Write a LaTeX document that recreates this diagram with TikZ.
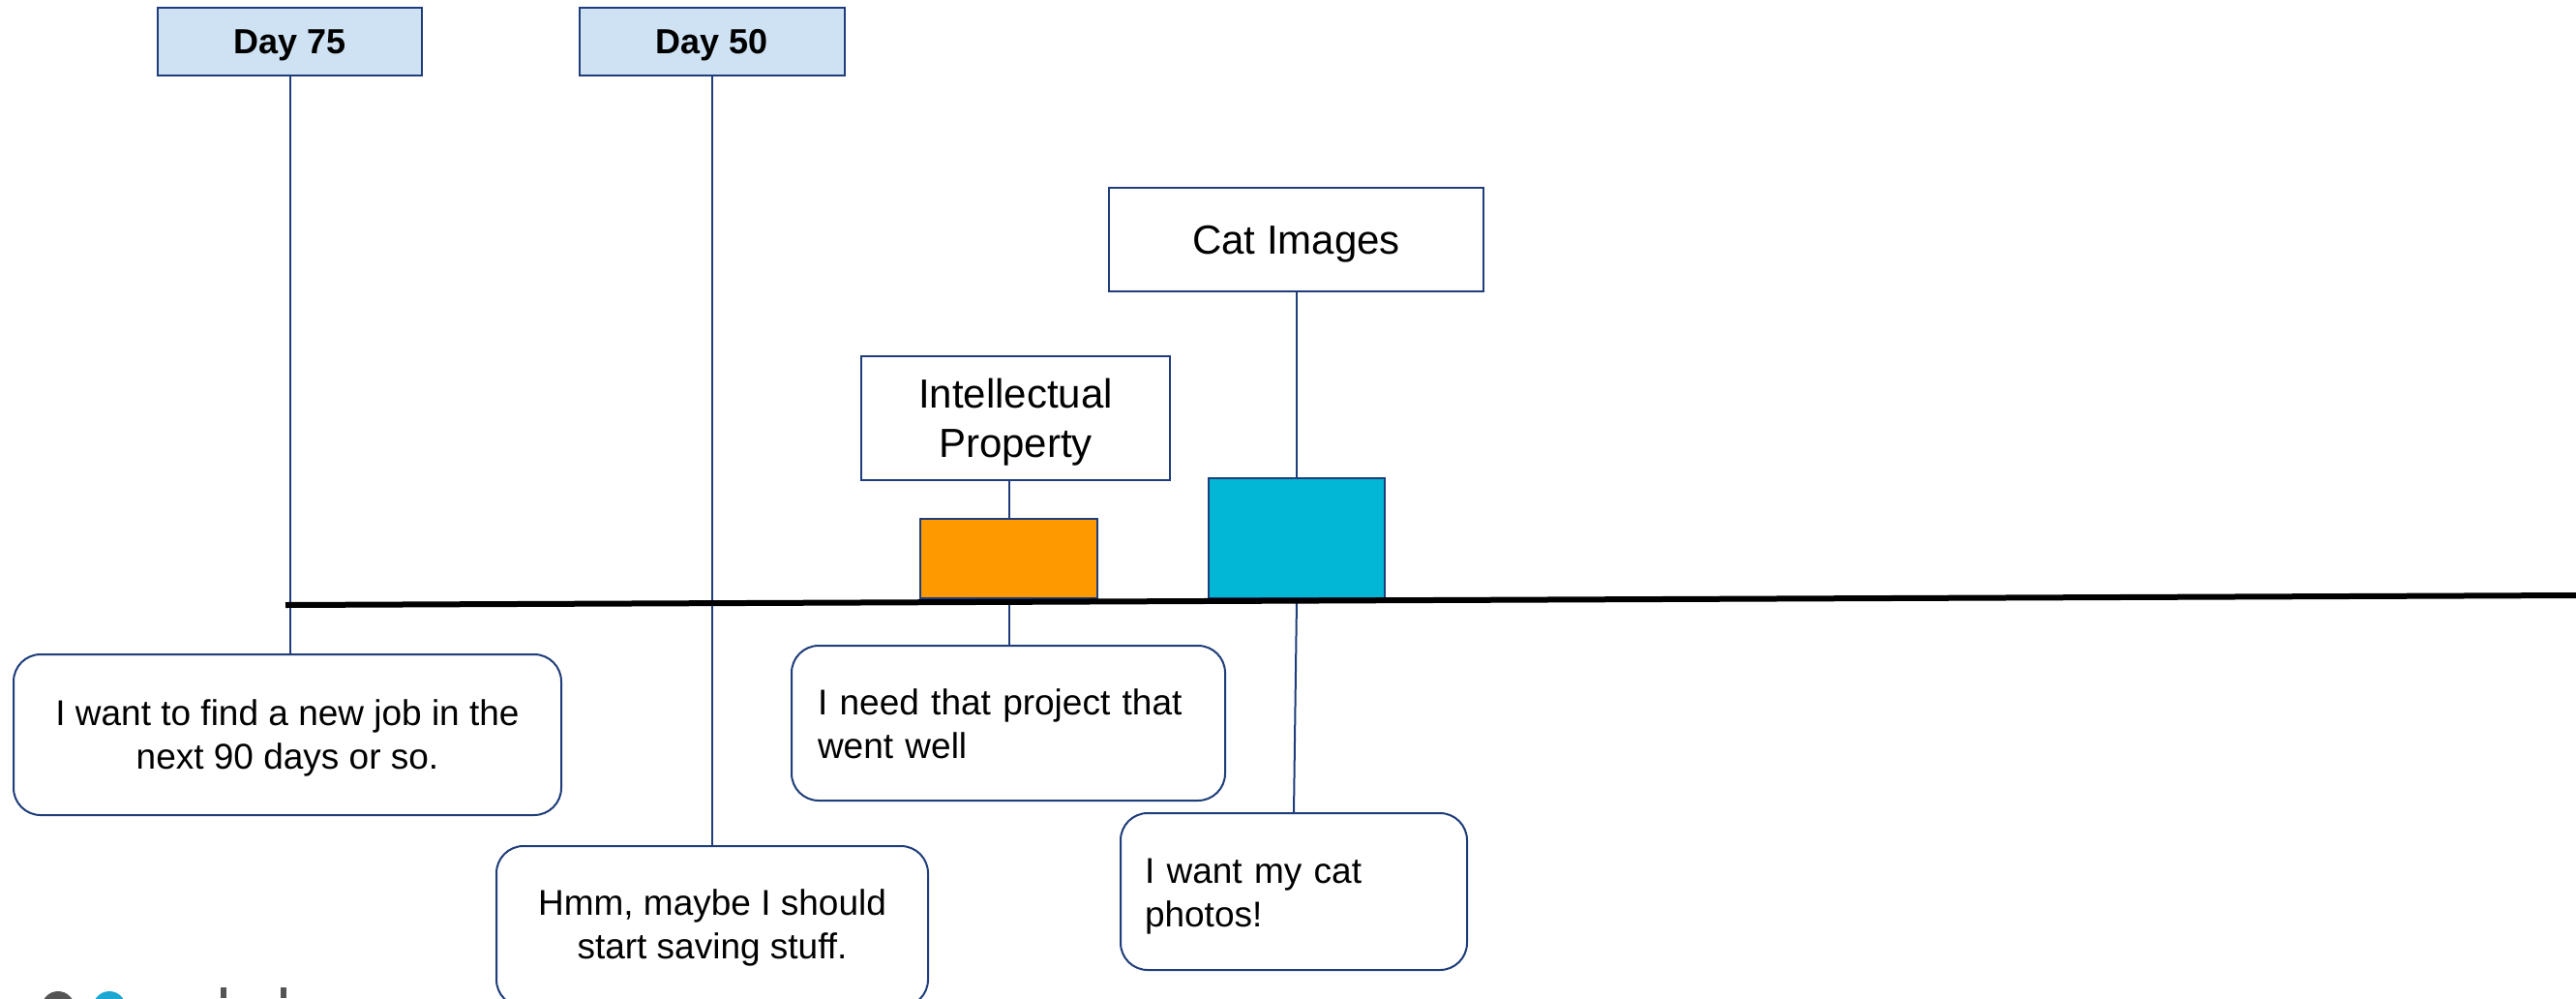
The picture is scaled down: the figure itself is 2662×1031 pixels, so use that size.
\documentclass[tikz,border=0pt]{standalone}
\usepackage{fontspec}
\setmainfont{Liberation Sans}
\definecolor{navy}{HTML}{1F3D7A}
\definecolor{dayblue}{HTML}{CFE2F3}
\definecolor{orng}{HTML}{FF9900}
\definecolor{tealbar}{HTML}{02B7D5}
\definecolor{logogray}{HTML}{555555}
\definecolor{logoblue}{HTML}{1AA8D2}
\newcommand\topstrut[1]{\rule{0pt}{#1}}
\begin{document}
\begin{tikzpicture}[x=1pt,y=-1pt,
  box/.style={draw=navy, line width=2pt, inner sep=0pt},
  daybox/.style={box, fill=dayblue, font=\bfseries\fontsize{36}{43}\selectfont},
  labelbox/.style={box, fill=white, align=center, font=\fontsize{42}{51}\selectfont},
  bar/.style={box},
  note/.style={draw=navy, line width=2pt, rounded corners=28pt, fill=white, font=\fontsize{37}{45}\selectfont},
  link/.style={draw=navy, line width=2pt},
  axis/.style={draw=black, line width=6pt}]
\useasboundingbox (0,0) rectangle (2662,1031);
\clip (0,0) rectangle (2662,1031);

% day markers
\node[daybox, minimum width=273pt, minimum height=70pt] (d75) at (299.5,43) {\topstrut{32pt}Day 75};
\node[daybox, minimum width=274pt, minimum height=70pt] (d50) at (736,43) {\topstrut{32pt}Day 50};

% labels above
\node[labelbox, minimum width=387pt, minimum height=107pt] (cat) at (1339.5,247) {\topstrut{39pt}Cat Images};
\node[labelbox, minimum width=319pt, minimum height=128pt] (ip) at (1049.5,432) {\topstrut{39pt}Intellectual\\Property};

% bars
\node[bar, fill=orng, minimum width=183pt, minimum height=82pt] (ob) at (1042.5,577) {};
\node[bar, fill=tealbar, minimum width=182pt, minimum height=124pt] (tb) at (1340,556) {};

% notes
\node[note, minimum width=566pt, minimum height=166pt, align=center] (job) at (297,759)
  {\topstrut{34pt}I want to find a new job in the\\next 90 days or so.};
\node[note, minimum width=448pt, minimum height=160pt, text width=394pt, inner xsep=27pt, align=left] (need) at (1042,747)
  {\topstrut{28pt}I need that project that\\went well};
\node[note, minimum width=446pt, minimum height=166pt, align=center] (hmm) at (736,957)
  {\topstrut{30pt}Hmm, maybe I should\\start saving stuff.};
\node[note, minimum width=358pt, minimum height=162pt, text width=308pt, inner xsep=25pt, align=left] (photos) at (1337,921)
  {\topstrut{35pt}I want my cat\\photos!};

% connectors
\draw[link] (d75.south) -- (d75.south |- job.north);
\draw[link] (d50.south) -- (d50.south |- hmm.north);
\draw[link] (ip.south -| ob.north) -- (ob.north);
\draw[link] (cat.south) -- (cat.south |- tb.north);
\draw[link] (ob.south) -- (ob.south |- need.north);
\draw[link] (tb.south) -- (photos.north);

% timeline
\coordinate (tl1) at (295,625);
\coordinate (tl2) at (2662,615);
\draw[axis] (tl1) -- (tl2);

% partial logo at the bottom edge
\fill[logogray] (60,1041) circle (17pt);
\fill[logoblue] (113,1041) circle (17pt);
\fill[logogray] (228,1020) rectangle (234,1031);
\fill[logogray] (290,1020) rectangle (296,1031);
\end{tikzpicture}
\end{document}
